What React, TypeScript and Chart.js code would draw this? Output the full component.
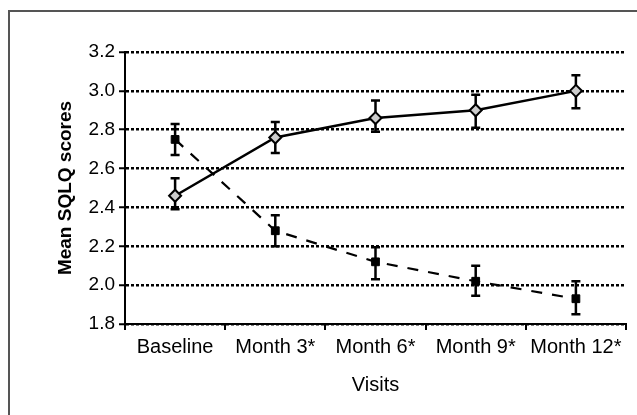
import React, { useEffect, useRef } from "react";
import { Chart, registerables } from "chart.js";

Chart.register(...registerables);

const categories = ["Baseline", "Month 3*", "Month 6*", "Month 9*", "Month 12*"];
const solidMeans = [2.46, 2.76, 2.86, 2.90, 3.00];
const solidLow = [2.39, 2.68, 2.79, 2.81, 2.91];
const solidHigh = [2.55, 2.84, 2.95, 2.98, 3.08];
const dashedMeans = [2.75, 2.28, 2.12, 2.02, 1.93];
const dashedLow = [2.67, 2.20, 2.03, 1.945, 1.85];
const dashedHigh = [2.83, 2.36, 2.195, 2.10, 2.02];
const yTicks = [1.8, 2.0, 2.2, 2.4, 2.6, 2.8, 3.0, 3.2];
const yTitle = "Mean SQLQ scores";
const xTitle = "Visits";

const FONT = "'Liberation Sans', Arial, sans-serif";

const errorBarPlugin = {
  id: "errorBars",
  beforeDatasetsDraw(chart: any) {
    const ctx = chart.ctx;
    const xs = chart.scales.x;
    const ys = chart.scales.y;
    const sets = [
      { low: solidLow, high: solidHigh },
      { low: dashedLow, high: dashedHigh },
    ];
    ctx.save();
    ctx.strokeStyle = "#000";
    ctx.lineWidth = 2.5;
    ctx.setLineDash([]);
    sets.forEach((s) => {
      s.low.forEach((lo, i) => {
        const x = xs.getPixelForValue(i);
        const yl = ys.getPixelForValue(lo);
        const yh = ys.getPixelForValue(s.high[i]);
        ctx.beginPath();
        ctx.moveTo(x, yl);
        ctx.lineTo(x, yh);
        ctx.moveTo(x - 4.5, yl);
        ctx.lineTo(x + 4.5, yl);
        ctx.moveTo(x - 4.5, yh);
        ctx.lineTo(x + 4.5, yh);
        ctx.stroke();
      });
    });
    ctx.restore();
  },
};

export default function App() {
  const ref = useRef<HTMLCanvasElement | null>(null);
  useEffect(() => {
    if (!ref.current) return;
    const chart = new Chart(ref.current, {
      type: "line",
      data: {
        labels: categories,
        datasets: [
          {
            data: solidMeans,
            borderColor: "#000",
            borderWidth: 2.5,
            pointStyle: "rectRot",
            pointRadius: 6,
            pointBackgroundColor: "#cccccc",
            pointBorderColor: "#000",
            pointBorderWidth: 2,
            tension: 0,
          },
          {
            data: dashedMeans,
            borderColor: "#000",
            borderWidth: 2.2,
            borderDash: [11, 10],
            pointStyle: "rect",
            pointRadius: 5.5,
            pointBackgroundColor: "#000",
            pointBorderColor: "#000",
            pointBorderWidth: 1,
            tension: 0,
          },
        ],
      },
      options: {
        animation: false,
        responsive: false,
        maintainAspectRatio: false,
        layout: { padding: { top: 52, right: 11, left: 0, bottom: 0 } },
        plugins: { legend: { display: false }, tooltip: { enabled: false } },
        scales: {
          x: {
            type: "category",
            offset: true,
            afterFit: (s: any) => {
              s.height = 91;
            },
            grid: {
              offset: true,
              drawOnChartArea: false,
              drawTicks: true,
              tickLength: 6,
              color: "#000",
              lineWidth: 2,
            },
            border: { display: true, color: "#000", width: 2 },
            ticks: {
              color: "#000",
              font: { family: FONT, size: 20 },
              padding: 5,
              maxRotation: 0,
              autoSkip: false,
            },
            title: {
              display: true,
              text: xTitle,
              color: "#000",
              font: { family: FONT, size: 20 },
              padding: { top: 0, bottom: 18 },
            },
          },
          y: {
            min: yTicks[0],
            max: yTicks[yTicks.length - 1],
            afterFit: (s: any) => {
              s.width = 125;
            },
            afterBuildTicks: (s: any) => {
              s.ticks = yTicks.map((v) => ({ value: v }));
            },
            grid: {
              color: "#000",
              lineWidth: 2.5,
              drawTicks: true,
              tickLength: 6,
              tickColor: "#000",
              tickWidth: 2,
              tickBorderDash: [],
            },
            border: { display: true, color: "#000", width: 2, dash: [3, 2] },
            ticks: {
              color: "#000",
              font: { family: FONT, size: 19 },
              padding: 4,
              callback: (v: any) => Number(v).toFixed(1),
            },
            title: {
              display: true,
              text: yTitle,
              color: "#000",
              font: { family: FONT, size: 19, weight: "bold" },
              padding: { top: 54, bottom: 0 },
            },
          },
        },
      },
      plugins: [errorBarPlugin],
    } as any);
    return () => chart.destroy();
  }, []);

  return (
    <div style={{ position: "absolute", left: 0, top: 0, width: 637, height: 415, overflow: "hidden", background: "#fff" }}>
      <div
        style={{
          position: "absolute",
          left: 8,
          top: 10,
          width: 640,
          height: 410,
          boxSizing: "border-box",
          border: "2px solid #555",
        }}
      />
      <canvas ref={ref} width={637} height={415} style={{ position: "absolute", left: 0, top: 0, width: 637, height: 415 }} />
    </div>
  );
}
